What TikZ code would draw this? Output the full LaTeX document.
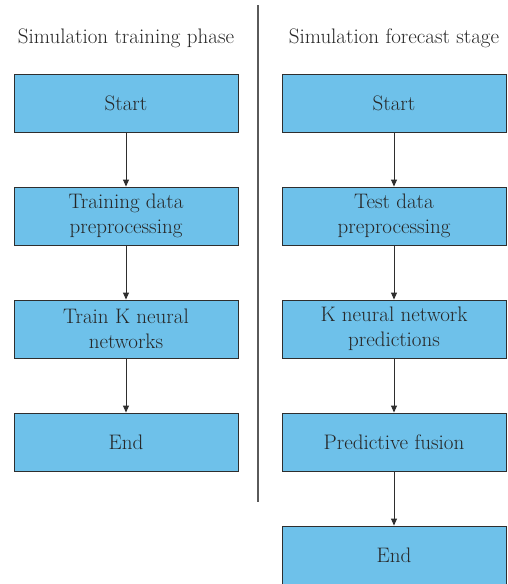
\documentclass[tikz,border=0pt]{standalone}
\usetikzlibrary{arrows.meta}
\definecolor{boxblue}{HTML}{6EC1EA}
\definecolor{edgegray}{HTML}{2E2E2E}
\definecolor{rulegray}{HTML}{5A5A5A}
\definecolor{inkgray}{HTML}{262626}
\begin{document}
\begin{tikzpicture}[x=1pt,y=-1pt,
  stepbox/.style={draw=edgegray, line width=0.9pt, fill=boxblue,
    minimum width=224pt, minimum height=58pt, inner sep=0pt,
    align=center, text=inkgray, font=\fontsize{21}{25}\selectfont},
  title/.style={text=inkgray, font=\fontsize{21}{24}\selectfont},
  flow/.style={draw=edgegray, line width=0.9pt,
    -{Triangle[length=7pt,width=6pt]}}]
\useasboundingbox (0,0) rectangle (507,584);
% phase headings
\node[title] (t1) at (126,38) {Simulation training phase};
\node[title] (t2) at (394,38) {Simulation forecast stage};
% divider between the two phases
\coordinate (d1) at (258,5);
\coordinate (d2) at (258,502);
\draw[rulegray, line width=1.4pt] (d1) -- (d2);
% training phase
\node[stepbox] (a1) at (126,103) {Start};
\node[stepbox] (a2) at (126,216) {Training data\\preprocessing};
\node[stepbox] (a3) at (126,329) {Train K neural\\networks};
\node[stepbox] (a4) at (126,442) {End};
% forecast stage
\node[stepbox] (b1) at (394,103) {Start};
\node[stepbox] (b2) at (394,216) {Test data\\preprocessing};
\node[stepbox] (b3) at (394,329) {K neural network\\predictions};
\node[stepbox] (b4) at (394,442) {Predictive fusion};
\node[stepbox] (b5) at (394,555) {End};
% connectors
\draw[flow] (a1) -- (a2);
\draw[flow] (a2) -- (a3);
\draw[flow] (a3) -- (a4);
\draw[flow] (b1) -- (b2);
\draw[flow] (b2) -- (b3);
\draw[flow] (b3) -- (b4);
\draw[flow] (b4) -- (b5);
\end{tikzpicture}
\end{document}
